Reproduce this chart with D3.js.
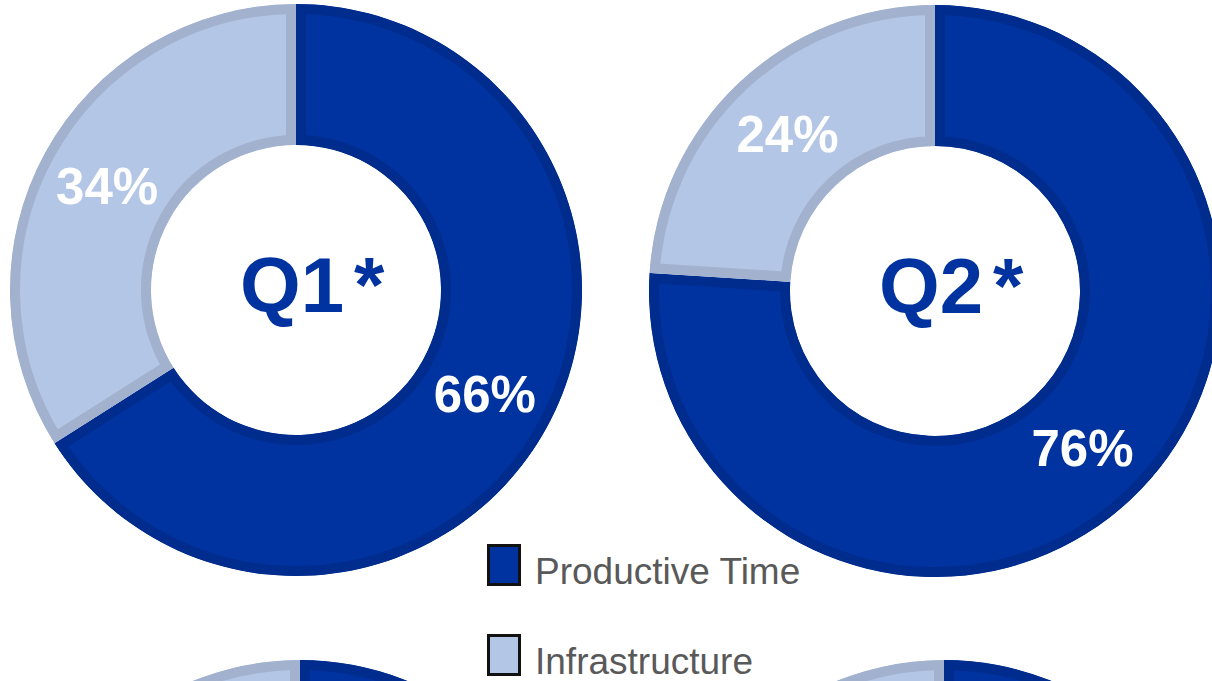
<!DOCTYPE html>
<html>
<head>
<meta charset="utf-8">
<script src="https://cdn.jsdelivr.net/npm/d3@7/dist/d3.min.js"></script>
<style>
  html, body { margin: 0; padding: 0; background: #fff; overflow: hidden; }
  svg { display: block; font-family: "Liberation Sans", Arial, sans-serif; }
</style>
</head>
<body>
<div id="chart"></div>
<script>
// data
var quarters = ["Q1", "Q2", "Q3", "Q4"];
var marks = ["*", "*", "*", "*"];
var categories = ["Productive Time", "Infrastructure"];
var productive = [66, 76, 70, 72];
var infrastructure = [34, 24, 30, 28];

var width = 1212,
    height = 681;

var fills = ["#0033A0", "#B3C6E5"],
    edges = ["#002C8E", "#A1B1CE"];

// donut centres (2x2 grid, bottom row cut off by the frame)
var centres = [[296, 290], [935, 291], [300, 946], [944, 946]];

var svg = d3.select("#chart").append("svg")
    .attr("width", width)
    .attr("height", height);

var defs = svg.append("defs");

var arc = d3.arc()
    .innerRadius(145)
    .outerRadius(286);

var pie = d3.pie()
    .sort(null)
    .value(function(d) { return d.value; });

quarters.forEach(function(q, i) {
    var rows = categories.map(function(c, k) {
        return { cat: c, k: k, value: k === 0 ? productive[i] : infrastructure[i] };
    });
    var slices = pie(rows);

    var g = svg.append("g")
        .attr("transform", "translate(" + centres[i][0] + "," + centres[i][1] + ")");

    // clip each slice to itself so the border sits inside it
    slices.forEach(function(s, j) {
        defs.append("clipPath").attr("id", "clip" + i + "_" + j)
            .append("path").attr("d", arc(s));
    });

    g.selectAll("path.slice")
        .data(slices).enter()
        .append("path")
        .attr("class", "slice")
        .attr("d", arc)
        .attr("fill", function(d) { return fills[d.data.k]; })
        .attr("stroke", function(d) { return edges[d.data.k]; })
        .attr("stroke-width", 20)
        .attr("clip-path", function(d, j) { return "url(#clip" + i + "_" + j + ")"; });

    // bottom row is only partly in view, its labels fall outside
    if (centres[i][1] > height) return;

    g.selectAll("text.pct")
        .data(slices).enter()
        .append("text")
        .attr("class", "pct")
        .attr("transform", function(d) {
            var c = arc.centroid(d);
            return "translate(" + c[0] + "," + (c[1] + 18) + ")";
        })
        .attr("text-anchor", "middle")
        .attr("font-size", 51)
        .attr("font-weight", "bold")
        .attr("fill", "#fff")
        .text(function(d) { return d.data.value + "%"; });

    var qt = g.append("text")
        .attr("x", -4)
        .attr("y", 22)
        .attr("text-anchor", "middle")
        .attr("font-size", 78)
        .attr("font-weight", "bold")
        .attr("fill", "#0033A0")
        .text(q);
    var w = qt.node().getComputedTextLength();
    g.append("text")
        .attr("x", w / 2 + 6)
        .attr("y", 22)
        .attr("font-size", 78)
        .attr("font-weight", "bold")
        .attr("fill", "#0033A0")
        .text(marks[i]);
});

// legend
var legend = svg.append("g")
    .attr("transform", "translate(487,0)");

var ly = d3.scalePoint()
    .domain(categories)
    .range([584, 674]);

var item = legend.selectAll("g.item")
    .data(categories).enter()
    .append("g")
    .attr("class", "item")
    .attr("transform", function(d) { return "translate(0," + ly(d) + ")"; });

item.append("rect")
    .attr("x", 1.5)
    .attr("y", -38.5)
    .attr("width", 31)
    .attr("height", 39)
    .attr("fill", function(d, k) { return fills[k]; })
    .attr("stroke", "#111")
    .attr("stroke-width", 3);

item.append("text")
    .attr("x", 48)
    .attr("y", 0)
    .attr("font-size", 37)
    .attr("fill", "#595959")
    .text(function(d) { return d; });
</script>
</body>
</html>
